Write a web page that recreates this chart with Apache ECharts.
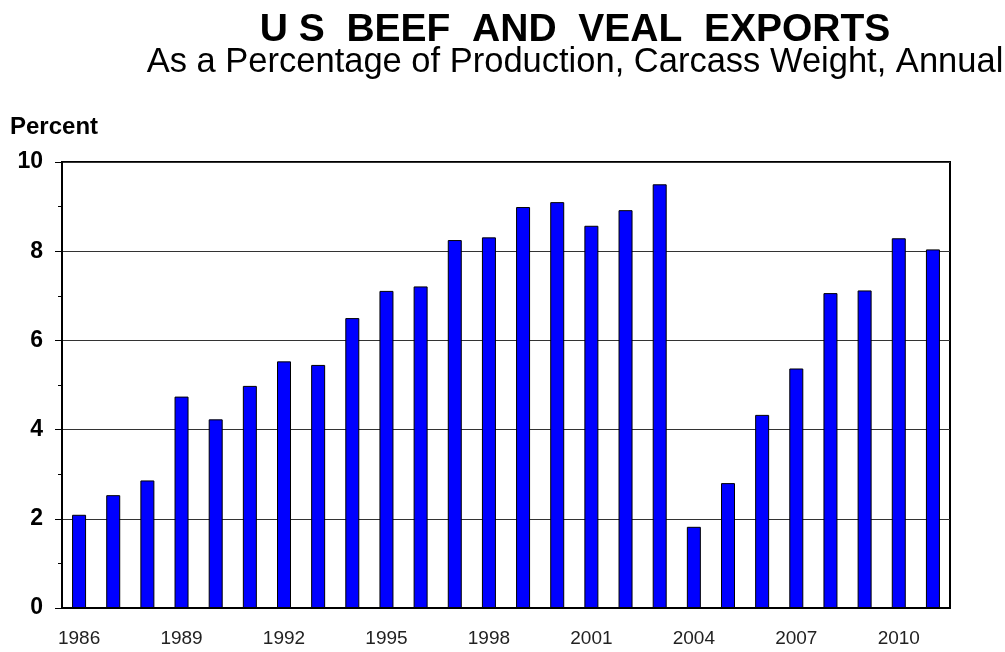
<!DOCTYPE html>
<html>
<head>
<meta charset="utf-8">
<script src="https://cdn.jsdelivr.net/npm/echarts@6/dist/echarts.min.js"></script>
<style>
html, body { margin: 0; padding: 0; background: #fff; }
#chart { width: 1005px; height: 652px; }
</style>
</head>
<body>
<div id="chart"></div>
<script>
var years = ['1986', '1987', '1988', '1989', '1990', '1991', '1992', '1993', '1994',
    '1995', '1996', '1997', '1998', '1999', '2000', '2001', '2002', '2003', '2004',
    '2005', '2006', '2007', '2008', '2009', '2010', '2011'];
var exportPct = [2.09, 2.53, 2.86, 4.74, 4.23, 4.98, 5.53, 5.45, 6.5,
    7.11, 7.21, 8.25, 8.31, 8.99, 9.1, 8.57, 8.92, 9.5, 1.82,
    2.8, 4.33, 5.37, 7.06, 7.12, 8.29, 8.04];
var yTicks = [0, 2, 4, 6, 8, 10];

var chart = echarts.init(document.getElementById('chart'));
var option = {
    backgroundColor: '#fff',
    animation: false,
    title: [{
        text: 'U S  BEEF  AND  VEAL  EXPORTS',
        left: 570,
        top: 6,
        textAlign: 'center',
        textStyle: { fontFamily: 'Liberation Sans', fontWeight: 'bold', fontSize: 39, color: '#000' }
    }, {
        text: 'As a Percentage of Production, Carcass Weight, Annual',
        left: 570,
        top: 40,
        textAlign: 'center',
        textStyle: { fontFamily: 'Liberation Sans', fontWeight: 'normal', fontSize: 34.5, color: '#000' }
    }],
    graphic: [{
        type: 'text',
        left: 10,
        top: 115,
        style: { text: 'Percent', fontFamily: 'Liberation Sans', fontWeight: 'bold', fontSize: 24, fill: '#000' }
    }],
    grid: {
        left: 62,
        right: 55,
        top: 162,
        bottom: 44,
        show: true,
        borderColor: '#000',
        borderWidth: 2
    },
    xAxis: {
        type: 'category',
        data: years,
        axisLine: { lineStyle: { color: '#000', width: 2 } },
        axisTick: { interval: 0, length: 6, lineStyle: { color: '#000', width: 1 } },
        axisLabel: {
            interval: 2,
            margin: 21,
            fontFamily: 'Liberation Sans',
            fontSize: 19,
            color: '#222'
        }
    },
    yAxis: {
        type: 'value',
        min: yTicks[0],
        max: yTicks[yTicks.length - 1],
        interval: 2,
        axisLine: { show: true, lineStyle: { color: '#000', width: 2 } },
        axisTick: { show: true, length: 7, lineStyle: { color: '#000', width: 1 } },
        minorTick: { show: true, splitNumber: 2, length: 4, lineStyle: { color: '#000', width: 1 } },
        splitLine: { lineStyle: { color: '#333', width: 1 } },
        axisLabel: {
            margin: 19,
            fontFamily: 'Liberation Sans',
            fontWeight: 'bold',
            fontSize: 23,
            color: '#000'
        }
    },
    series: [{
        type: 'bar',
        data: exportPct,
        barWidth: 14,
        itemStyle: { color: '#0000ff', borderColor: '#000', borderWidth: 1 }
    }]
};
chart.setOption(option);
</script>
</body>
</html>
